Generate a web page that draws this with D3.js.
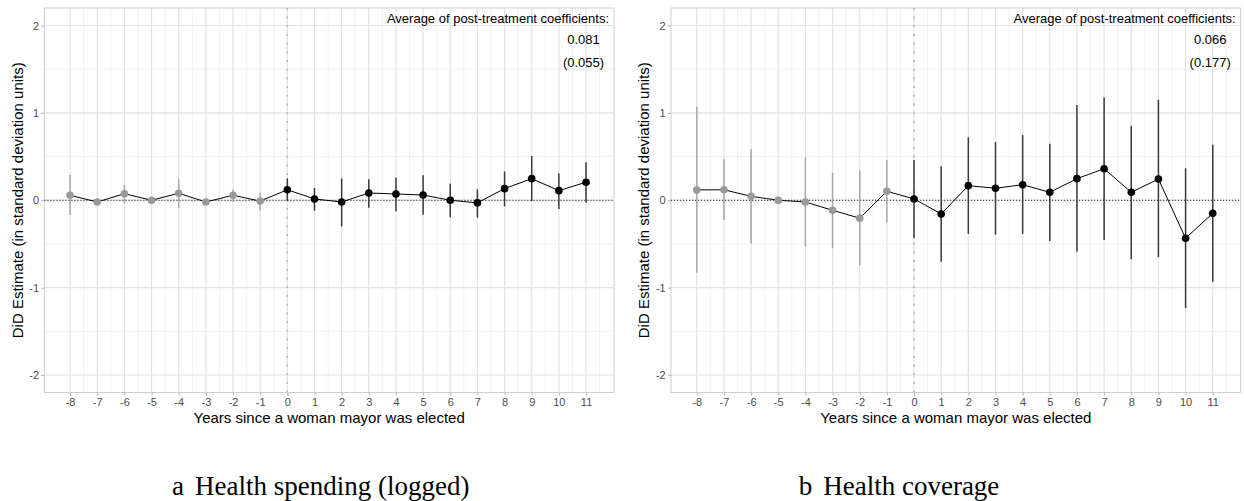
<!doctype html>
<html lang="en">
  <head>
    <meta charset="utf-8">
    <title>Event study: health spending and coverage</title>
    <script src="https://d3js.org/d3.v7.min.js"></script>
    <style>
      body { margin: 0; background: white; }
      text { font-family: "Liberation Sans", Arial, sans-serif; }
      .caption { font-family: "Liberation Serif", "Times New Roman", serif; }
    </style>
  </head>
  <body>
    <svg width="1244" height="501"></svg>
    <script>
      // years relative to the election of a woman mayor
      var years = [-8, -7, -6, -5, -4, -3, -2, -1, 0, 1, 2, 3, 4, 5, 6, 7, 8, 9, 10, 11];

      // panel a: health spending (logged)
      var spendEst = [0.057, -0.02, 0.075, 0.0, 0.08, -0.02, 0.057, -0.01, 0.12, 0.015, -0.02, 0.083, 0.072, 0.06, 0.0, -0.03, 0.133, 0.247, 0.11, 0.206];
      var spendLo  = [-0.17, -0.05, -0.035, -0.03, -0.09, -0.05, -0.02, -0.12, -0.01, -0.12, -0.30, -0.085, -0.125, -0.165, -0.195, -0.2, -0.07, -0.01, -0.1, -0.03];
      var spendHi  = [0.29, 0.01, 0.175, 0.03, 0.24, 0.01, 0.12, 0.09, 0.25, 0.14, 0.25, 0.24, 0.26, 0.285, 0.19, 0.125, 0.33, 0.506, 0.31, 0.434];

      // panel b: health coverage
      var coverEst = [0.118, 0.12, 0.045, 0.0, -0.02, -0.115, -0.205, 0.103, 0.015, -0.157, 0.167, 0.137, 0.178, 0.091, 0.247, 0.361, 0.091, 0.243, -0.435, -0.149];
      var coverLo  = [-0.83, -0.225, -0.496, -0.03, -0.53, -0.55, -0.743, -0.256, -0.435, -0.705, -0.385, -0.393, -0.385, -0.465, -0.59, -0.454, -0.674, -0.651, -1.234, -0.934];
      var coverHi  = [1.07, 0.47, 0.585, 0.03, 0.49, 0.315, 0.34, 0.46, 0.46, 0.39, 0.72, 0.666, 0.746, 0.647, 1.09, 1.177, 0.853, 1.15, 0.366, 0.636];

      var yTicks = [-2, -1, 0, 1, 2];
      var yMinor = [-1.5, -0.5, 0.5, 1.5];
      var avgLabels = ['0.081', '0.066'];
      var seLabels = ['(0.055)', '(0.177)'];
      var captionLetters = ['a', 'b'];
      var captionTitles = ['Health spending (logged)', 'Health coverage'];
      var xTitle = 'Years since a woman mayor was elected';
      var yTitle = 'DiD Estimate (in standard deviation units)';
      var noteTitle = 'Average of post-treatment coefficients:';

      var panels = [
        {est: spendEst, lo: spendLo, hi: spendHi, dx: 0},
        {est: coverEst, lo: coverLo, hi: coverHi, dx: 626.7}
      ];

      var svg = d3.select('svg');

      var x = d3.scaleLinear().domain([-8.95, 12.03]).range([44.3, 614]);
      var y = d3.scaleLinear().domain([-2.2, 2.2]).range([392.5, 8]);
      var xMinor = years.map(function(d){ return d + 0.5; });

      panels.forEach(function(p, k) {
        var g = svg.append('g').attr('transform', 'translate(' + p.dx + ',0)');
        var rows = years.map(function(yr, i){ return {yr: yr, est: p.est[i], lo: p.lo[i], hi: p.hi[i]}; });

        // grid
        g.selectAll('.hminor').data(yMinor).enter().append('line')
          .attr('x1', x.range()[0]).attr('x2', x.range()[1])
          .attr('y1', y).attr('y2', y)
          .style('stroke', '#ececec').style('stroke-width', 0.7);
        g.selectAll('.vminor').data(xMinor).enter().append('line')
          .attr('x1', x).attr('x2', x)
          .attr('y1', y.range()[0]).attr('y2', y.range()[1])
          .style('stroke', '#ececec').style('stroke-width', 0.7);
        g.selectAll('.hmajor').data(yTicks).enter().append('line')
          .attr('x1', x.range()[0]).attr('x2', x.range()[1])
          .attr('y1', y).attr('y2', y)
          .style('stroke', '#e2e2e2').style('stroke-width', 1.2);
        g.selectAll('.vmajor').data(years).enter().append('line')
          .attr('x1', x).attr('x2', x)
          .attr('y1', y.range()[0]).attr('y2', y.range()[1])
          .style('stroke', '#e2e2e2').style('stroke-width', 1.2);

        // panel border
        g.append('rect')
          .attr('x', x.range()[0]).attr('y', y.range()[1])
          .attr('width', x.range()[1] - x.range()[0])
          .attr('height', y.range()[0] - y.range()[1])
          .style('fill', 'none').style('stroke', '#cfcfcf').style('stroke-width', 1);

        // reference lines
        g.append('line')
          .attr('x1', x.range()[0]).attr('x2', x.range()[1])
          .attr('y1', y(0)).attr('y2', y(0))
          .style('stroke', '#111').style('stroke-width', 0.9).style('stroke-dasharray', '1.2,1.8');
        g.append('line')
          .attr('x1', x(0)).attr('x2', x(0))
          .attr('y1', y.range()[0]).attr('y2', y.range()[1])
          .style('stroke', '#b5b5b5').style('stroke-width', 1.6).style('stroke-dasharray', '1.8,6.9');

        // confidence intervals
        g.selectAll('.ci').data(rows).enter().append('line')
          .attr('x1', function(d){ return x(d.yr); })
          .attr('x2', function(d){ return x(d.yr); })
          .attr('y1', function(d){ return y(d.lo); })
          .attr('y2', function(d){ return y(d.hi); })
          .style('stroke', function(d){ return d.yr < 0 ? '#a8a8a8' : '#3a3a3a'; })
          .style('stroke-width', 1.5);

        // connecting line
        g.append('path').datum(rows)
          .attr('d', d3.line().x(function(d){ return x(d.yr); }).y(function(d){ return y(d.est); }))
          .style('fill', 'none').style('stroke', '#000').style('stroke-width', 1);

        // points
        g.selectAll('.pt').data(rows).enter().append('circle')
          .attr('cx', function(d){ return x(d.yr); })
          .attr('cy', function(d){ return y(d.est); })
          .attr('r', 3.8)
          .style('fill', function(d){ return d.yr < 0 ? '#999999' : '#000'; });

        // axes
        var ax = g.append('g').attr('transform', 'translate(0,' + y.range()[0] + ')')
          .call(d3.axisBottom(x).tickValues(years).tickSize(3).tickPadding(3)
            .tickFormat(function(d){ return String(d); }));
        var ay = g.append('g').attr('transform', 'translate(' + x.range()[0] + ',0)')
          .call(d3.axisLeft(y).tickValues(yTicks).tickSize(3).tickPadding(2.3)
            .tickFormat(function(d){ return String(d); }));
        [ax, ay].forEach(function(a) {
          a.select('.domain').remove();
          a.selectAll('.tick line').style('stroke', '#b3b3b3');
          a.selectAll('.tick text').style('fill', '#4d4d4d').style('font-size', '11px')
            .style('font-family', '"Liberation Sans", Arial, sans-serif');
        });

        // axis titles
        g.append('text')
          .attr('x', (x.range()[0] + x.range()[1]) / 2).attr('y', 423)
          .attr('text-anchor', 'middle').style('font-size', '15px').style('fill', '#000')
          .text(xTitle);
        g.append('text')
          .attr('transform', 'translate(' + (x.range()[0] - 27) + ',' + ((y.range()[0] + y.range()[1]) / 2) + ') rotate(-90)')
          .attr('dy', '0.35em')
          .attr('text-anchor', 'middle').style('font-size', '15px').style('fill', '#000')
          .text(yTitle);

        // annotation
        g.append('text')
          .attr('x', x.range()[1] - 5).attr('y', 22.5)
          .attr('text-anchor', 'end').style('font-size', '13px').text(noteTitle);
        g.append('text')
          .attr('x', x.range()[1] - 30.5).attr('y', 44)
          .attr('text-anchor', 'middle').style('font-size', '13px').text(avgLabels[k]);
        g.append('text')
          .attr('x', x.range()[1] - 30.5).attr('y', 66.5)
          .attr('text-anchor', 'middle').style('font-size', '13px').text(seLabels[k]);

        // subfigure caption
        var cap = g.append('text').attr('class', 'caption')
          .attr('x', 172).attr('y', 494.5)
          .style('font-size', '27px').style('fill', '#000');
        cap.append('tspan').text(captionLetters[k]);
        cap.append('tspan').attr('dx', 11).text(captionTitles[k]);
      });
    </script>
  </body>
</html>
